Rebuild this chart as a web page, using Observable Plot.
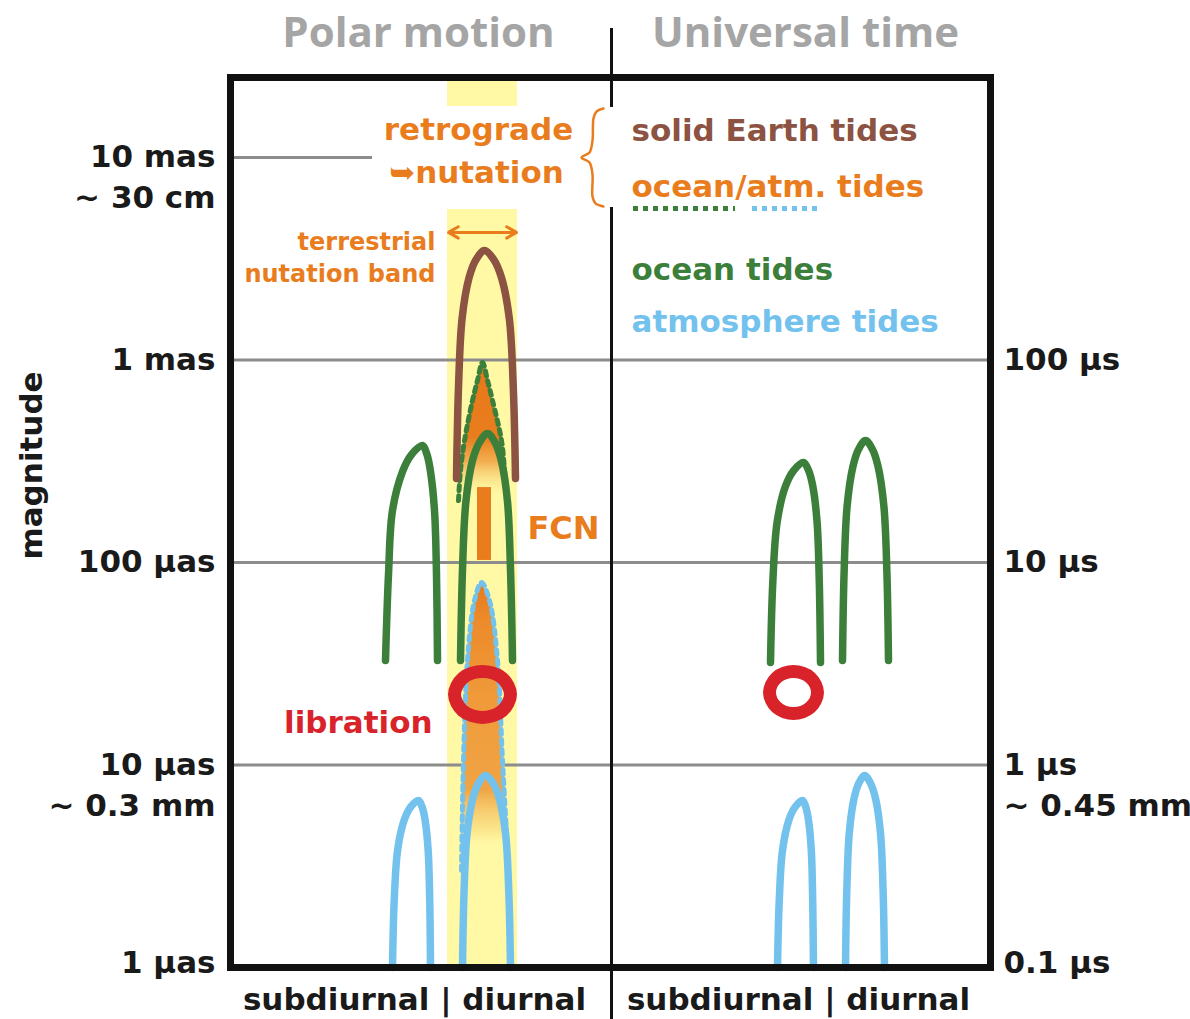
<!DOCTYPE html>
<html><head><meta charset="utf-8">
<script src="https://cdn.jsdelivr.net/npm/d3@7"></script>
<script src="https://cdn.jsdelivr.net/npm/@observablehq/plot@0.6"></script>
<style>body{margin:0;background:#fff} svg{display:block}</style>
</head><body><div id="chart"></div>
<script>
// y values: log10 of magnitude in µas (0 = 1 µas, 4 = 10 mas); x: schematic frequency position
const leftTickLabels = [{v:4,t:"10 mas"},{v:3,t:"1 mas"},{v:2,t:"100 µas"},{v:1,t:"10 µas"},{v:0.02,t:"1 µas"}];
const leftSubLabels = [{v:3.798,t:"~ 30 cm"},{v:0.795,t:"~ 0.3 mm"}];
const rightTickLabels = [{v:3,t:"100 µs"},{v:2,t:"10 µs"},{v:1,t:"1 µs"},{v:0.02,t:"0.1 µs"}];
const rightSubLabels = [{v:0.795,t:"~ 0.45 mm"}];
const gridLevels = [1,2,3];

// polar motion
const polarOceanSub = [[155,1.516],[158,1.941],[162,2.257],[172,2.449],[181,2.533],[192,2.578],[196.5,2.533],[200,2.449],[204,2.257],[206,1.941],[207,1.516]];
const polarOceanDiu = [[230,1.516],[232,1.965],[235.4,2.301],[242,2.504],[249,2.593],[257,2.637],[264.5,2.593],[270.75,2.504],[277,2.301],[280,1.965],[282,1.516]];
const polarSolid = [[226,2.415],[228,2.864],[231.6,3.205],[238.6,3.407],[245.6,3.496],[254,3.541],[263.3,3.496],[271,3.407],[278.8,3.205],[282.8,2.864],[285,2.415]];
const polarAtmSub = [[162,0],[163.8,0.341],[167.2,0.583],[173.7,0.728],[180.2,0.793],[188,0.825],[191.6,0.793],[194.6,0.728],[197.6,0.583],[199.2,0.341],[200,0]];
const polarAtmDiu = [[232,0],[233.6,0.380],[236.6,0.664],[242.35,0.835],[248.1,0.910],[255,0.948],[262.5,0.910],[268.75,0.835],[275,0.664],[278.25,0.380],[280,0]];
const polarLibration = [[252,1.462],[271.8,1.429],[280,1.348],[271.8,1.268],[252,1.235],[232.2,1.268],[224,1.348],[232.2,1.429]];
const retroOceanFill = [{y:2.988,l:252,r:252},{y:2.899,l:247,r:257},{y:2.8,l:242,r:262},{y:2.602,l:234,r:271},{y:2.454,l:230,r:274},{y:2.306,l:228,r:276}];
const retroAtmFill = [{y:1.901,l:251,r:251},{y:1.812,l:244,r:259},{y:1.516,l:237,r:267},{y:1.022,l:233,r:272},{y:0.479,l:231,r:278}];
const fcn = [{x1:247,x2:261,y1:2.010,y2:2.370}];
const nutationBand = [{x1:217,x2:287,y1:0,y2:3.743},{x1:217,x2:287,y1:4.252,y2:4.395}];

// universal time
const utOcean1 = [[540,1.506],[542.3,1.901],[546.6,2.198],[554.85,2.375],[563.1,2.454],[573,2.494],[578.1,2.454],[582.35,2.375],[586.6,2.198],[588.8,1.901],[590,1.506]];
const utOcean2 = [[612,1.516],[613.6,1.951],[616.6,2.277],[622.35,2.472],[628.1,2.559],[635,2.602],[641.9,2.559],[647.65,2.472],[653.4,2.277],[656.4,1.951],[658,1.516]];
const utAtm1 = [[547,0],[548.75,0.331],[552,0.578],[558.25,0.726],[564.5,0.792],[572,0.825],[575.3,0.792],[578.05,0.726],[580.8,0.578],[582.2,0.331],[583,0]];
const utAtm2 = [[615,0],[616.3,0.380],[618.8,0.664],[623.55,0.835],[628.3,0.910],[634,0.948],[640,0.910],[645,0.835],[650,0.664],[652.6,0.380],[654,0]];
const utLibration = [[563,1.462],[580,1.431],[587,1.358],[580,1.285],[563,1.254],[546,1.285],[539,1.358],[546,1.431]];

// annotations
const brace = [[373,4.242],[366,4.227],[363,4.193],[362,4.084],[359,4.025],[351,4.0],[359,3.975],[362,3.916],[362,3.807],[365,3.773],[373,3.758]];
const divider = [{x:381,y1:4.637,y2:4.247},{x:381,y1:3.753,y2:-0.257}];
const legendDots = [{x1:403,x2:505,y:3.748,c:"#3b7f3b"},{x1:522,x2:588,y:3.748,c:"#73c2ee"}];

const C = {green:"#3b7f3b", brown:"#8c5242", blue:"#73c2ee", red:"#d9232a", orange:"#e97d1e", yellow:"#fff9a6", grid:"#8c8c8c", title:"#a5a5a5", ink:"#1a1a1a"};
const F = "DejaVu Sans";

const outline = f => [...f.slice().reverse().map(d => [d.l, d.y]), ...f.slice(1).map(d => [d.r, d.y])];
const arch = (data, color) => Plot.line(data, {x: d => d[0], y: d => d[1], stroke: color, strokeWidth: 7.5, strokeLinecap: "round", curve: "catmull-rom"});
const ring = (data) => Plot.line(data, {x: d => d[0], y: d => d[1], stroke: C.red, strokeWidth: 13, curve: "catmull-rom-closed"});
const txt = (data, o) => Plot.text(data, {fontFamily: F, fontWeight: "bold", fontSize: 31, ...o});

const plot = Plot.plot({
  width: 1190, height: 1019,
  marginLeft: 230, marginRight: 200, marginTop: 77, marginBottom: 52,
  x: {domain: [0, 760], axis: null},
  y: {domain: [0, 4.395], axis: null},
  style: {background: "#fff", overflow: "visible"},
  marks: [
    Plot.rect(nutationBand, {x1: "x1", x2: "x2", y1: "y1", y2: "y2", fill: C.yellow}),
    Plot.ruleY(gridLevels, {x1: 0, x2: 760, stroke: C.grid, strokeWidth: 3}),
    Plot.ruleY([4], {x1: 0, x2: 142, stroke: C.grid, strokeWidth: 3}),
    Plot.areaX(retroOceanFill, {y: "y", x1: "l", x2: "r", fill: "url(#gUpper)", curve: "catmull-rom"}),
    Plot.areaX(retroAtmFill, {y: "y", x1: "l", x2: "r", fill: "url(#gLower)", curve: "catmull-rom"}),
    Plot.rect(fcn, {x1: "x1", x2: "x2", y1: "y1", y2: "y2", fill: C.orange}),
    Plot.line(outline(retroOceanFill), {x: d => d[0], y: d => d[1], stroke: C.green, strokeWidth: 5, strokeDasharray: "5,5", curve: "catmull-rom"}),
    Plot.line(outline(retroAtmFill), {x: d => d[0], y: d => d[1], stroke: C.blue, strokeWidth: 5, strokeDasharray: "5,5", curve: "catmull-rom"}),
    arch(polarSolid, C.brown),
    arch(polarOceanSub, C.green),
    arch(polarOceanDiu, C.green),
    arch(polarAtmSub, C.blue),
    arch(polarAtmDiu, C.blue),
    arch(utOcean1, C.green),
    arch(utOcean2, C.green),
    arch(utAtm1, C.blue),
    arch(utAtm2, C.blue),
    ring(polarLibration),
    ring(utLibration),
    Plot.frame({stroke: "#111", strokeWidth: 7}),
    Plot.ruleX(divider, {x: "x", y1: "y1", y2: "y2", stroke: "#111", strokeWidth: 3}),
    Plot.line(brace, {x: d => d[0], y: d => d[1], stroke: C.orange, strokeWidth: 2.5, curve: "catmull-rom"}),
    Plot.arrow([{a:252,b:218},{a:252,b:286}], {x1: "a", x2: "b", y1: 3.63, y2: 3.63, stroke: C.orange, strokeWidth: 3, headLength: 14}),
    Plot.ruleY(legendDots, {x1: "x1", x2: "x2", y: "y", stroke: "c", strokeWidth: 5, strokeDasharray: "5,5"}),
    // axis labels
    txt(leftTickLabels, {x: -15, y: "v", text: "t", textAnchor: "end", fill: C.ink}),
    txt(leftSubLabels, {x: -15, y: "v", text: "t", textAnchor: "end", fill: C.ink}),
    txt(rightTickLabels, {x: 773, y: "v", text: "t", textAnchor: "start", fill: C.ink}),
    txt(rightSubLabels, {x: 773, y: "v", text: "t", textAnchor: "start", fill: C.ink}),
    txt(["magnitude"], {x: -198, y: 2.479, text: d => d, rotate: -90, fill: C.ink}),
    txt(["subdiurnal | diurnal"], {x: 184, y: -0.163, text: d => d, fill: C.ink}),
    txt(["subdiurnal | diurnal"], {x: 568, y: -0.163, text: d => d, fill: C.ink}),
    Plot.text(["Polar motion"], {x: 188, y: 4.612, text: d => d, fontFamily: "Open Sans", fontWeight: "bold", fontSize: 42, fill: C.title}),
    Plot.text(["Universal time"], {x: 575, y: 4.612, text: d => d, fontFamily: "Open Sans", fontWeight: "bold", fontSize: 42, fill: C.title}),
    // annotations
    txt(["retrograde"], {x: 248, y: 4.133, text: d => d, fill: C.orange}),
    txt(["➥nutation"], {x: 246, y: 3.921, text: d => d, fill: C.orange}),
    txt(["solid Earth tides"], {x: 401, y: 4.128, text: d => d, textAnchor: "start", fill: C.brown}),
    txt(["ocean/atm. tides"], {x: 401, y: 3.852, text: d => d, textAnchor: "start", fill: C.orange}),
    txt(["ocean tides"], {x: 401, y: 3.442, text: d => d, textAnchor: "start", fill: C.green}),
    txt(["atmosphere tides"], {x: 401, y: 3.185, text: d => d, textAnchor: "start", fill: C.blue}),
    txt(["terrestrial"], {x: 205, y: 3.580, text: d => d, textAnchor: "end", fontSize: 24, fill: C.orange}),
    txt(["nutation band"], {x: 205, y: 3.422, text: d => d, textAnchor: "end", fontSize: 24, fill: C.orange}),
    txt(["FCN"], {x: 297, y: 2.168, text: d => d, textAnchor: "start", fontSize: 32, fill: C.orange}),
    txt(["libration"], {x: 202, y: 1.205, text: d => d, textAnchor: "end", fill: C.red})
  ]
});

const defs = d3.select(plot).insert("defs", ":first-child");
const gU = defs.append("linearGradient").attr("id", "gUpper").attr("x1", 0).attr("y1", 0).attr("x2", 0).attr("y2", 1);
[[0,"#e8781a",1],[0.55,"#e97d1e",1],[0.72,"#f0a040",0.85],[0.88,"#f8d878",0.4],[1,"#fff9a6",0]].forEach(([o,c,a]) => gU.append("stop").attr("offset", o).attr("stop-color", c).attr("stop-opacity", a));
const gL = defs.append("linearGradient").attr("id", "gLower").attr("x1", 0).attr("y1", 0).attr("x2", 0).attr("y2", 1);
[[0,"#e8781a",1],[0.12,"#ec8a2a",1],[0.4,"#f09a3a",1],[0.72,"#f0a444",1],[0.86,"#f8d070",0.5],[0.93,"#fff9a6",0]].forEach(([o,c,a]) => gL.append("stop").attr("offset", o).attr("stop-color", c).attr("stop-opacity", a));

document.getElementById("chart").appendChild(plot);
</script></body></html>
